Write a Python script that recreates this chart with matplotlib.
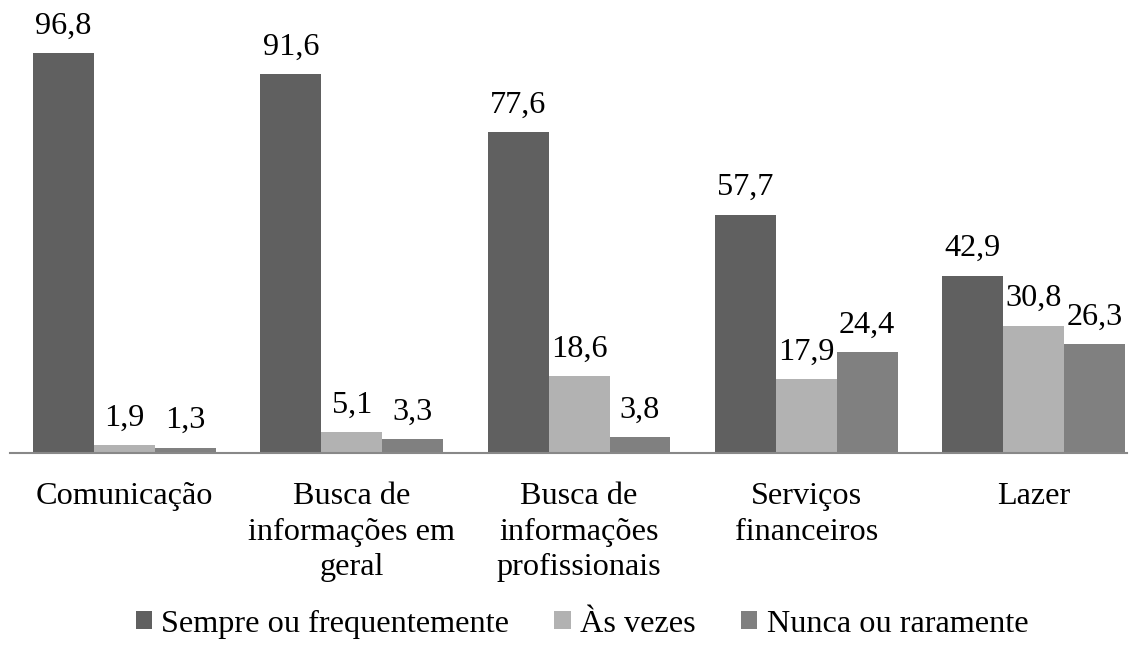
import matplotlib
matplotlib.use("Agg")
import matplotlib.pyplot as plt
import numpy as np
from matplotlib.patches import Patch

categories = ["Comunicação", "Busca de\ninformações em\ngeral", "Busca de\ninformações\nprofissionais",
              "Serviços\nfinanceiros", "Lazer"]
series_names = ["Sempre ou frequentemente", "Às vezes", "Nunca ou raramente"]
sempre = [96.8, 91.6, 77.6, 57.7, 42.9]
as_vezes = [1.9, 5.1, 18.6, 17.9, 30.8]
nunca = [1.3, 3.3, 3.8, 24.4, 26.3]
colors = ["#606060", "#b2b2b2", "#808080"]

plt.rcParams['font.family'] = ['Liberation Serif', 'DejaVu Serif']
FS = 23.2

fig = plt.figure(figsize=(11.35, 6.46), dpi=100)
ax = fig.add_axes([10/1135, 1 - 453/646, 1117/1135, 453/646])

x = np.arange(len(categories))
w = 0.268
for i, (vals, col) in enumerate(zip([sempre, as_vezes, nunca], colors)):
    bars = ax.bar(x + (i - 1) * w, vals, w, color=col, label=series_names[i])
    for b, v in zip(bars, vals):
        ax.annotate(f"{v:.1f}".replace(".", ","), (b.get_x() + b.get_width() / 2, v),
                    xytext=(0, 9), textcoords="offset points", ha="center", va="bottom",
                    fontsize=FS)

ax.set_xlim(-0.504, 4.411)
ax.set_ylim(0, 109.6)
for s in ["top", "right", "left"]:
    ax.spines[s].set_visible(False)
ax.spines["bottom"].set_color("#888888")
ax.spines["bottom"].set_linewidth(1.5)
ax.set_yticks([])
ax.set_xticks(x)
ax.set_xticklabels(categories, fontsize=FS, va="top", linespacing=1.3)
ax.tick_params(axis="x", length=0, pad=21)

handles = [Patch(facecolor=c, edgecolor='none') for c in colors]
fig.legend(handles, series_names, loc="center", bbox_to_anchor=(582/1135, 1 - 624/646), ncol=3,
           frameon=False, fontsize=FS, handlelength=0.5, handleheight=0.5, handletextpad=0.3,
           columnspacing=1.4, borderpad=0, borderaxespad=0)

fig.savefig("out.png", dpi=100)
